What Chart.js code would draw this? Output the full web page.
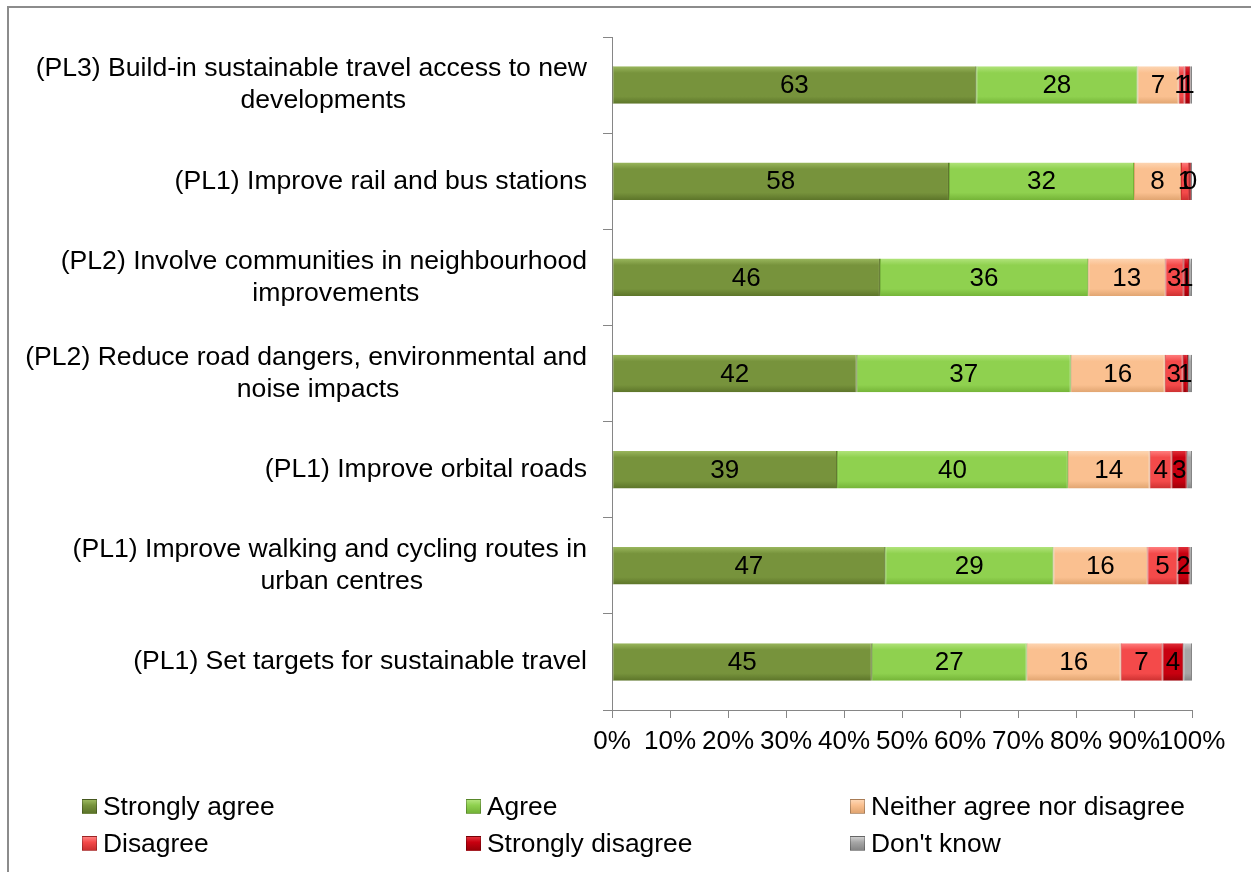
<!DOCTYPE html>
<html>
<head>
<meta charset="utf-8">
<script src="https://cdn.jsdelivr.net/npm/chart.js@4/dist/chart.umd.min.js"></script>
<style>
body{margin:0;background:#fff;font-family:"Liberation Sans",Arial,sans-serif}
#wrap{position:relative;width:1251px;height:872px;overflow:hidden}
#moldura{position:absolute;left:7px;top:6px;width:1300px;height:900px;border-left:2px solid #8c8c8c;border-top:2px solid #8c8c8c}
#grafico{position:absolute;left:0;top:0}
.leg{position:absolute;font-size:26.4px;color:#000;line-height:28px;white-space:nowrap}
.leg i{display:inline-block;width:13px;height:13px;margin-right:6px;vertical-align:1px;border:1px solid rgba(0,0,0,.25)}
</style>
</head>
<body>
<div id="wrap">
<div id="moldura"></div>
<canvas id="grafico" width="1251" height="872"></canvas>
<div id="legenda"></div>
</div>
<script>
const categorias=[
['(PL3) Build-in sustainable travel access to new','developments'],
['(PL1) Improve rail and bus stations'],
['(PL2) Involve communities in neighbourhood','improvements'],
['(PL2) Reduce road dangers, environmental and','noise impacts'],
['(PL1) Improve orbital roads'],
['(PL1) Improve walking and cycling routes in','urban centres'],
['(PL1) Set targets for sustainable travel']
]

const series=['Strongly agree','Agree','Neither agree nor disagree','Disagree','Strongly disagree',"Don't know"]

const fortementeConcordo=[62.8,58.1,46.2,42.2,38.8,47.1,44.8]
const concordo=[27.8,31.9,35.9,36.9,39.8,29.0,26.7]
const neutro=[7.1,8.1,13.3,16.2,14.1,16.2,16.2]
const discordo=[1.0,1.4,3.1,3.1,3.8,5.2,7.2]
const fortementeDiscordo=[1.0,0.3,1.0,0.9,2.6,2.1,3.6]
const naoSei=[0.3,0.2,0.5,0.7,0.9,0.4,1.5]

const ticksX=[0,10,20,30,40,50,60,70,80,90,100]

const cores=[
['#9bb85e','#77933c','#5c7429'],
['#b2e47c','#8fd14f','#74b337'],
['#fdd6b4','#fac090','#e0a470'],
['#ff8080','#f44a4a','#cc3030'],
['#e0303a','#c80010','#9a0008'],
['#cfcfcf','#a6a6a6','#858585']
]

const valores=[fortementeConcordo,concordo,neutro,discordo,fortementeDiscordo,naoSei]

function gradiente(i){
return ctx=>{
let chart=ctx.chart
let y=chart.scales&&chart.scales.y
if(!chart.chartArea||!y||ctx.dataIndex===undefined)return cores[i][1]
let yc=y.getPixelForValue(ctx.dataIndex)
let g=chart.ctx.createLinearGradient(0,yc-19,0,yc+19)
g.addColorStop(0,cores[i][0])
g.addColorStop(0.18,cores[i][1])
g.addColorStop(0.8,cores[i][1])
g.addColorStop(1,cores[i][2])
return g
}
}

const fonte='"Liberation Sans", Arial, sans-serif'

const rotulosBarras={
id:'rotulosBarras',
afterDatasetsDraw(chart){
let c=chart.ctx
c.save()
c.font='26px '+fonte
c.fillStyle='#000'
c.textAlign='center'
c.textBaseline='middle'
chart.data.datasets.forEach((ds,i)=>{
if(i===5)return
let meta=chart.getDatasetMeta(i)
meta.data.forEach((el,j)=>{
let v=ds.data[j]
c.fillText(Math.round(v),(el.x+el.base)/2,el.y+1)
})
})
c.restore()
}
}

const rotulosCategorias={
id:'rotulosCategorias',
afterDraw(chart){
let c=chart.ctx
let y=chart.scales.y
c.save()
c.font='26.6px '+fonte
c.fillStyle='#000'
c.textBaseline='middle'
categorias.forEach((linhas,i)=>{
let yc=y.getPixelForValue(i)
let larg=c.measureText(linhas[0]).width
let topo=yc-(linhas.length-1)*16
c.textAlign='right'
c.fillText(linhas[0],587,topo)
if(linhas[1]){
c.textAlign='center'
c.fillText(linhas[1],587-larg/2+12,topo+32)
}
})
c.restore()
}
}

new Chart(document.getElementById('grafico'),{
type:'bar',
data:{
labels:categorias.map(l=>l.join(' ')),
datasets:series.map((s,i)=>({
label:s,
data:valores[i],
backgroundColor:gradiente(i),
borderColor:cores[i][2],
borderWidth:{left:1,right:1,top:0,bottom:0},
borderSkipped:false,
categoryPercentage:1,
barPercentage:0.39
}))
},
options:{
indexAxis:'y',
responsive:false,
animation:false,
layout:{padding:{top:37,right:59,bottom:110,left:0}},
plugins:{
legend:{display:false},
tooltip:{enabled:false}
},
scales:{
x:{
stacked:true,
min:0,
max:100,
afterBuildTicks:s=>{s.ticks=ticksX.map(v=>({value:v}))},
afterFit:s=>{s.height=52},
ticks:{
color:'#000',
font:{size:26,family:fonte},
padding:8,
maxRotation:0,
autoSkip:false,
callback:v=>v+'%'
},
grid:{drawOnChartArea:false,drawTicks:true,tickLength:8,color:'#868686'},
border:{color:'#868686',width:1}
},
y:{
stacked:true,
afterFit:s=>{s.width=612},
ticks:{display:false},
grid:{drawOnChartArea:false,drawTicks:true,tickLength:9,offset:true,color:'#868686'},
border:{color:'#868686',width:1}
}
}
},
plugins:[rotulosBarras,rotulosCategorias]
})

let posLegenda=[[82,792],[466,792],[850,792],[82,829],[466,829],[850,829]]
let html=''
series.forEach((s,i)=>{
html+=`<div class="leg" style="left:${posLegenda[i][0]}px;top:${posLegenda[i][1]}px"><i style="background:linear-gradient(${cores[i][0]},${cores[i][1]} 40%,${cores[i][2]})"></i>${s}</div>`
})
document.getElementById('legenda').innerHTML=html
</script>
</body>
</html>
